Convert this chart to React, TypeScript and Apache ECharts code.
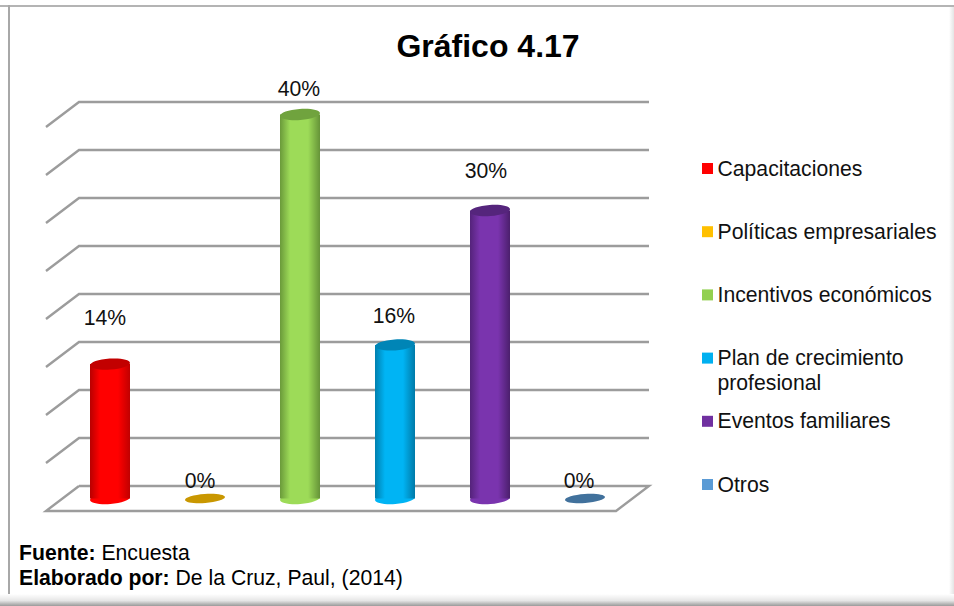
import React, { useEffect, useRef } from "react";
import * as echarts from "echarts";

const categories = [
  "Capacitaciones",
  "Políticas empresariales",
  "Incentivos económicos",
  "Plan de crecimiento\nprofesional",
  "Eventos familiares",
  "Otros",
];
const shares = [14, 0, 40, 16, 30, 0];
const gridTicks = [0, 5, 10, 15, 20, 25, 30, 35, 40];

const legendColors = ["#ff0000", "#ffc000", "#92d050", "#00b0f0", "#7030a0", "#5b9bd5"];
const bodyShades = [
  ["#b80000", "#ff0000", "#c00000"],
  ["#b08400", "#c99700", "#b08400"],
  ["#6a9a3a", "#9ddb58", "#659338"],
  ["#007fae", "#00b4f4", "#007aa8"],
  ["#54237a", "#7a34ae", "#4b1f6c"],
  ["#3d6f9c", "#4a7fae", "#3d6f9c"],
];
const capColors = ["#c20000", "#c99700", "#70a33e", "#0085b6", "#55257c", "#41719c"];

// Hand-placed data labels: distance above the cap and sideways shift.
const labelLift = [47, 18, 26, 29, 40, 18];
const labelShift = [-5, -5, -1, -1, -4, -6];

const FONT = '"Liberation Sans", Arial, sans-serif';
const TEXT_SIZE = 21.2;
const DEPTH_X = 33;
const DEPTH_Y = 25;
const RADIUS_X = 20;
const RADIUS_Y = 5.5;
const CAP_TILT = 0.07;

export default function App() {
  const ref = useRef<HTMLDivElement>(null);

  useEffect(() => {
    const chart = echarts.init(ref.current!, undefined, { renderer: "svg" });

    // Back wall, side wall and floor lines of the 3D box, one item per axis tick.
    const renderWall = (params: any, api: any) => {
      const value = api.value(0);
      const [, y] = api.coord([0, value]);
      const left = params.coordSys.x;
      const right = left + params.coordSys.width;
      const halfX = DEPTH_X / 2;
      const halfY = DEPTH_Y / 2;
      const points =
        value === 0
          ? [
              [left + halfX, y - halfY],
              [left - halfX, y + halfY],
              [right - halfX, y + halfY],
              [right + halfX, y - halfY],
              [left + halfX, y - halfY],
            ]
          : [
              [left - halfX, y + halfY],
              [left + halfX, y - halfY],
              [right + halfX, y - halfY],
            ];
      return {
        type: "polyline",
        shape: { points },
        style: { stroke: "#9c9c9c", lineWidth: 2.4, fill: "none" },
        silent: true,
      };
    };

    // Cylinder: shaded body with a rounded foot, an elliptical cap tilted like the floor,
    // and the percentage label above it.
    const renderCylinder = (_: any, api: any) => {
      const index = api.value(0);
      const share = api.value(1);
      const [cx, top] = api.coord([index, share]);
      const [, base] = api.coord([index, 0]);
      const cap = {
        type: "ellipse",
        shape: { cx: 0, cy: 0, rx: RADIUS_X, ry: share === 0 ? 4.5 : RADIUS_Y },
        x: cx,
        y: top,
        rotation: CAP_TILT,
        style: { fill: capColors[index] },
      };
      const label = {
        type: "text",
        x: cx + labelShift[index],
        y: top - labelLift[index],
        style: {
          text: `${share}%`,
          font: `${TEXT_SIZE}px ${FONT}`,
          fill: "#111111",
          align: "center",
          verticalAlign: "middle",
        },
      };
      if (share === 0) return { type: "group", children: [cap, label] };
      const shades = bodyShades[index];
      return {
        type: "group",
        children: [
          {
            type: "ellipse",
            shape: { cx: 0, cy: 0, rx: RADIUS_X, ry: RADIUS_Y },
            x: cx,
            y: base,
            rotation: CAP_TILT,
            style: { fill: shades[1] },
          },
          {
            type: "rect",
            shape: { x: cx - RADIUS_X, y: top, width: RADIUS_X * 2, height: base - top },
            style: {
              fill: new echarts.graphic.LinearGradient(0, 0, 1, 0, [
                { offset: 0, color: shades[0] },
                { offset: 0.25, color: shades[1] },
                { offset: 0.7, color: shades[1] },
                { offset: 1, color: shades[2] },
              ]),
            },
          },
          cap,
          label,
        ],
      };
    };

    const legendItems: any[] = categories.flatMap((name, i) => {
      const y = 168.5 + i * 63.2;
      return [
        { type: "rect", shape: { x: 702, y: y - 5.5, width: 11, height: 11 }, style: { fill: legendColors[i] } },
        {
          type: "text",
          x: 717.5,
          y: y - 13,
          style: { text: name, font: `${TEXT_SIZE}px ${FONT}`, fill: "#111111", lineHeight: 25 },
        },
      ];
    });

    chart.setOption({
      animation: false,
      backgroundColor: "#ffffff",
      title: {
        text: "Gráfico 4.17",
        left: 483,
        top: 25,
        textAlign: "center",
        textStyle: { fontFamily: FONT, fontSize: 32, fontWeight: "bold", color: "#000000" },
      },
      grid: { left: 62.5, right: 954 - 632.5, top: 114.5, bottom: 606 - 498.5 },
      xAxis: { type: "category", data: categories.map((_, i) => i), show: false },
      yAxis: { type: "value", min: 0, max: 40, interval: 5, show: false },
      series: [
        {
          type: "custom",
          coordinateSystem: "cartesian2d",
          data: gridTicks.map((t) => [t]),
          encode: { y: 0 },
          renderItem: renderWall,
          z: 1,
        },
        {
          type: "custom",
          coordinateSystem: "cartesian2d",
          data: shares.map((v, i) => [i, v]),
          encode: { x: 0, y: 1 },
          renderItem: renderCylinder,
          z: 2,
        },
      ],
      graphic: [
        // Sheet edges: top and left rules, soft shadow along the lower and right sides.
        { type: "rect", shape: { x: 0, y: 5, width: 954, height: 2 }, style: { fill: "#b4b4b4" }, z: -1 },
        { type: "rect", shape: { x: 8, y: 5, width: 2, height: 595 }, style: { fill: "#a8a8a8" }, z: -1 },
        {
          type: "rect",
          shape: { x: 949, y: 7, width: 5, height: 599 },
          style: {
            fill: new echarts.graphic.LinearGradient(0, 0, 1, 0, [
              { offset: 0, color: "#ffffff" },
              { offset: 1, color: "#e4e4e4" },
            ]),
          },
          z: -2,
        },
        {
          type: "rect",
          shape: { x: 0, y: 594, width: 954, height: 12 },
          style: {
            fill: new echarts.graphic.LinearGradient(0, 0, 0, 1, [
              { offset: 0, color: "#ffffff" },
              { offset: 0.55, color: "#e6e6e6" },
              { offset: 1, color: "#9a9a9a" },
            ]),
          },
          z: -1,
        },
        ...legendItems,
        {
          type: "text",
          x: 19,
          y: 540,
          style: {
            text: "{b|Fuente:} Encuesta\n{b|Elaborado por:} De la Cruz, Paul, (2014)",
            font: `${TEXT_SIZE}px ${FONT}`,
            fill: "#000000",
            lineHeight: 25,
            rich: {
              b: { font: `bold ${TEXT_SIZE}px ${FONT}`, fill: "#000000", lineHeight: 25 },
            },
          },
        },
      ],
    });

    return () => chart.dispose();
  }, []);

  return (
    <div
      ref={ref}
      style={{ position: "fixed", left: 0, top: 0, width: 954, height: 606 }}
    />
  );
}
